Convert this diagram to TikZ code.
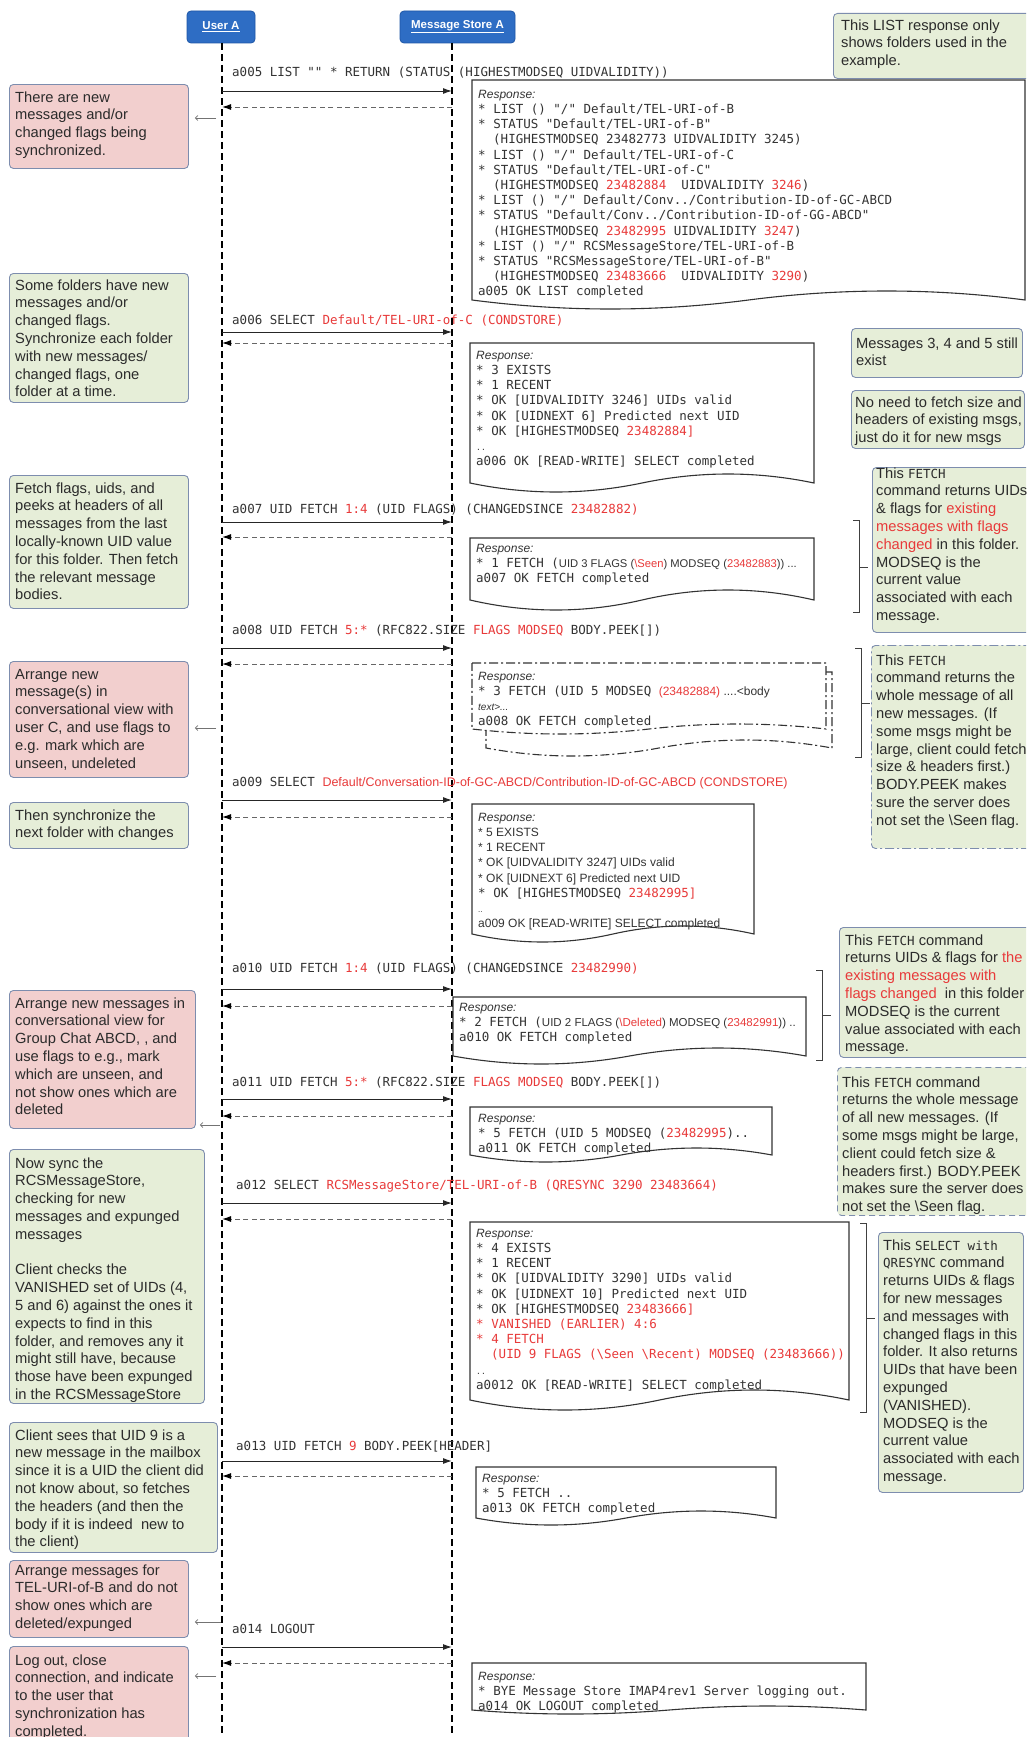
\documentclass[tikz,border=0pt]{standalone}
\usepackage{fontspec}
\setmainfont{Liberation Sans}
\setsansfont{Liberation Sans}
\setmonofont{DejaVu Sans Mono}
\usetikzlibrary{arrows.meta}

\definecolor{rd}{HTML}{E83A3A}
\definecolor{pinkfill}{HTML}{F2CFCE}
\definecolor{greenfill}{HTML}{E6EED8}
\definecolor{notebd}{HTML}{7D8DAE}
\definecolor{hdrfill}{HTML}{2E6DC4}
\definecolor{hdrbd}{HTML}{1E56A6}
\definecolor{txt}{HTML}{2B2B2B}
\definecolor{doctxt}{HTML}{333333}

\newcommand\notefont{\fontsize{14.7}{17.8}\selectfont}
\newcommand\codefont{\fontsize{12.5}{15.2}\selectfont\ttfamily}
\newcommand\mono[1]{{\ttfamily\fontsize{12.5}{17.8}\selectfont #1}}
\newcommand\rt[1]{\textcolor{rd}{#1}}
\newcommand\rsp{{\rmfamily\itshape\fontsize{12}{15.2}\selectfont Response:}}
\newcommand\smalldots{{\fontsize{8}{15.2}\selectfont ..}}

% document shape: top-left (x1,y1), right edge x2, wave level y2, wave amplitude a
\newcommand\docshape[6][]{%
  \draw[docline,#1] (#2,#3) -- (#4,#3) -- (#4,#5)
   .. controls ({#4-(#4-#2)/6},{#5-1.333*#6}) and ({#2+(#4-#2)*2/3},{#5-1.333*#6}) .. ({(#2+#4)/2},#5)
   .. controls ({#2+(#4-#2)/3},{#5+1.333*#6}) and ({#2+(#4-#2)/6},{#5+1.333*#6}) .. (#2,#5) -- cycle;}

% request / reply pair between the two lifelines
\newcommand\exchange[3]{%
  \coordinate (#1ru) at (222,#2); \coordinate (#1rs) at (452,#2);
  \coordinate (#1pu) at (222,#3); \coordinate (#1ps) at (452,#3);
  \draw[req] (#1ru) -- (#1rs);
  \draw[rep] (#1ps) -- (#1pu);}

% square bracket with a nub pointing to the comment on its right
\newcommand\bracket[5]{%
  \coordinate (#1a) at ({#2-6},#3); \coordinate (#1b) at (#2,#3);
  \coordinate (#1c) at (#2,#4); \coordinate (#1d) at ({#2-6},#4);
  \coordinate (#1m) at (#2,#5); \coordinate (#1n) at ({#2+9},#5);
  \draw[brk] (#1a) -- (#1b) -- (#1c) -- (#1d);
  \draw[brk] (#1m) -- (#1n);}

\tikzset{
  notebox/.style={draw=notebd, line width=0.9pt, rounded corners=4pt, inner sep=0pt, anchor=north west},
  pinkbox/.style={notebox, fill=pinkfill},
  greenbox/.style={notebox, fill=greenfill},
  ntext/.style={anchor=north west, inner sep=0pt, align=left, font=\notefont, text=txt},
  code/.style={anchor=north west, inner sep=0pt, align=left, font=\codefont, text=doctxt},
  lbl/.style={anchor=west, inner sep=0pt, font=\codefont, text=doctxt, text height=9pt, text depth=2.5pt},
  docline/.style={draw=black!80, line width=1.1pt, fill=white},
  dashdot/.style={dash pattern=on 9pt off 3pt on 2pt off 3pt},
  req/.style={draw=black!85, line width=1pt, -{Latex[length=9pt,width=6pt]}},
  rep/.style={draw=black!60, line width=1pt, dash pattern=on 5pt off 3.5pt, -{Latex[length=9pt,width=6pt,color=black]}},
  life/.style={draw=black, line width=1.1pt, dash pattern=on 7pt off 4pt},
  brk/.style={draw=black!75, line width=0.9pt},
  hint/.style={draw=black!55, line width=0.7pt, -{Straight Barb[length=2.5pt,width=5pt]}, shorten >=6pt},
  hdr/.style={draw=hdrbd, fill=hdrfill, rounded corners=4pt, line width=0.8pt, text=white, inner sep=0pt,
    font=\bfseries\fontsize{11.5}{13}\selectfont},
}

\begin{document}
\begin{tikzpicture}[x=1pt, y=-1pt]
\useasboundingbox (0,0) rectangle (1026,1737);
\clip (0,0) rectangle (1026,1737);
\fill[white] (0,0) rectangle (1026,1737);

% ---------- participants and lifelines ----------
\node[hdr, minimum width=68, minimum height=32] (ua) at (221,27) {\underline{User A}};
\node[hdr, minimum width=115, minimum height=32] (ms) at (457.5,27) {\underline{Message Store A}};
\coordinate (uatop) at (222,43); \coordinate (uabot) at (222,1745);
\coordinate (mstop) at (452,43); \coordinate (msbot) at (452,1745);
\draw[life] (uatop) -- (uabot);
\draw[life] (mstop) -- (msbot);

% ---------- response documents ----------
\docshape{472}{80}{1025}{300}{9}
\docshape{470}{343}{814}{483}{9}
\docshape{470}{538}{814}{600}{10}
\docshape[dashdot]{486}{672}{832}{748}{8}
\docshape[dashdot]{472}{663}{826}{729}{5}
\docshape{472}{804}{754}{934}{8}
\docshape{453}{997}{806}{1056}{8}
\docshape{470}{1107}{772}{1155}{7}
\docshape{470}{1222}{849}{1400}{10}
\docshape{476}{1467}{776}{1518}{7}
\docshape{472}{1663}{866}{1710}{4}

\node[code] (r1) at (478,87.4) {\strut\rsp\\
* LIST () "/" Default/TEL-URI-of-B\\
* STATUS "Default/TEL-URI-of-B"\\
\hspace*{15pt}(HIGHESTMODSEQ 23482773 UIDVALIDITY 3245)\\
* LIST () "/" Default/TEL-URI-of-C\\
* STATUS "Default/TEL-URI-of-C"\\
\hspace*{15pt}(HIGHESTMODSEQ \rt{23482884}\ \ UIDVALIDITY \rt{3246})\\
* LIST () "/" Default/Conv../Contribution-ID-of-GC-ABCD\\
* STATUS "Default/Conv../Contribution-ID-of-GG-ABCD"\\
\hspace*{15pt}(HIGHESTMODSEQ \rt{23482995} UIDVALIDITY \rt{3247})\\
* LIST () "/" RCSMessageStore/TEL-URI-of-B\\
* STATUS "RCSMessageStore/TEL-URI-of-B"\\
\hspace*{15pt}(HIGHESTMODSEQ \rt{23483666}\ \ UIDVALIDITY \rt{3290})\\
a005 OK LIST completed};

\node[code] (r2) at (476,348.4) {\strut\rsp\\
* 3 EXISTS\\
* 1 RECENT\\
* OK [UIDVALIDITY 3246] UIDs valid\\
* OK [UIDNEXT 6] Predicted next UID\\
* OK [HIGHESTMODSEQ \rt{23482884]}\\
\smalldots\\
a006 OK [READ-WRITE] SELECT completed};

\node[code] (r3) at (476,541.4) {\strut\rsp\\
* 1 FETCH ({\rmfamily\fontsize{11.2}{15.2}\selectfont UID 3 FLAGS (\rt{\textbackslash Seen}) MODSEQ (\rt{23482883})) ...}\\
a007 OK FETCH completed};

\node[code] (r4) at (478,669.4) {\strut\rsp\\
* 3 FETCH (UID 5 MODSEQ {\rmfamily\fontsize{12}{15.2}\selectfont\rt{(23482884)} ....<body}\\
{\rmfamily\itshape\fontsize{10}{15.2}\selectfont text>...}\\
a008 OK FETCH completed};

\node[code, font=\rmfamily\fontsize{12}{15.2}\selectfont] (r5) at (478,810.4) {\strut\rsp\\
* 5 EXISTS\\
* 1 RECENT\\
* OK [UIDVALIDITY 3247] UIDs valid\\
* OK [UIDNEXT 6] Predicted next UID\\
{\codefont * OK [HIGHESTMODSEQ \rt{23482995]}}\\
\smalldots\\
a009 OK [READ-WRITE] SELECT completed};

\node[code] (r6) at (459,1000.4) {\strut\rsp\\
* 2 FETCH ({\rmfamily\fontsize{11.5}{15.2}\selectfont UID 2 FLAGS (\rt{\textbackslash Deleted}) MODSEQ (\rt{23482991})) ..}\\
a010 OK FETCH completed};

\node[code] (r7) at (478,1111.4) {\strut\rsp\\
* 5 FETCH (UID 5 MODSEQ (\rt{23482995})..\\
a011 OK FETCH completed};

\node[code] (r8) at (476,1226.4) {\strut\rsp\\
* 4 EXISTS\\
* 1 RECENT\\
* OK [UIDVALIDITY 3290] UIDs valid\\
* OK [UIDNEXT 10] Predicted next UID\\
* OK [HIGHESTMODSEQ \rt{23483666]}\\
\rt{* VANISHED (EARLIER) 4:6}\\
\rt{* 4 FETCH}\\
\rt{\hspace*{15pt}(UID 9 FLAGS (\textbackslash Seen \textbackslash Recent) MODSEQ (23483666))}\\
\smalldots\\
a0012 OK [READ-WRITE] SELECT completed};

\node[code] (r9) at (482,1471.4) {\strut\rsp\\
* 5 FETCH ..\\
a013 OK FETCH completed};

\node[code] (r10) at (478,1669.4) {\strut\rsp\\
* BYE Message Store IMAP4rev1 Server logging out.\\
a014 OK LOGOUT completed};

% ---------- messages ----------
\exchange{a005}{91}{107}
\exchange{a006}{332}{343}
\exchange{a007}{522}{537}
\exchange{a008}{648}{664}
\exchange{a009}{800}{817}
\exchange{a010}{989}{1006}
\exchange{a011}{1099}{1116}
\exchange{a012}{1203}{1219}
\exchange{a013}{1461}{1476}
\exchange{a014}{1647}{1663}

\node[lbl] (l005) at (232,73) {a005 LIST "" * RETURN (STATUS (HIGHESTMODSEQ UIDVALIDITY))};
\node[lbl] (l006) at (232,321) {a006 SELECT \rt{Default/TEL-URI-of-C (CONDSTORE)}};
\node[lbl] (l007) at (232,510) {a007 UID FETCH \rt{1:4} (UID FLAGS) (CHANGEDSINCE \rt{23482882)}};
\node[lbl] (l008) at (232,631) {a008 UID FETCH \rt{5:*} (RFC822.SIZE \rt{FLAGS MODSEQ} BODY.PEEK[])};
\node[lbl] (l009) at (232,783) {a009 SELECT {\rmfamily\fontsize{12.5}{15}\selectfont\rt{Default/Conversation-ID-of-GC-ABCD/Contribution-ID-of-GC-ABCD (CONDSTORE)}}};
\node[lbl] (l010) at (232,969) {a010 UID FETCH \rt{1:4} (UID FLAGS) (CHANGEDSINCE \rt{23482990)}};
\node[lbl] (l011) at (232,1083) {a011 UID FETCH \rt{5:*} (RFC822.SIZE \rt{FLAGS MODSEQ} BODY.PEEK[])};
\node[lbl] (l012) at (236,1186) {a012 SELECT \rt{RCSMessageStore/TEL-URI-of-B (QRESYNC 3290 23483664)}};
\node[lbl] (l013) at (236,1447) {a013 UID FETCH \rt{9} BODY.PEEK[HEADER]};
\node[lbl] (l014) at (232,1630) {a014 LOGOUT};

% ---------- brackets ----------
\bracket{k7}{859}{520}{612}{567}
\bracket{k8}{861}{648}{757}{703}
\bracket{k10}{822}{970}{1060}{1015}
\bracket{k12}{866}{1223}{1412}{1318}

% ---------- client-side notes ----------
\node[pinkbox, minimum width=179, minimum height=84] (n1) at (9,84) {};
\node[ntext] (n1t) at (15,89.5) {\strut There are new\\messages and/or\\changed flags being\\synchronized.};
\node[greenbox, minimum width=179, minimum height=129] (n2) at (9,273) {};
\node[ntext] (n2t) at (15,277.5) {\strut Some folders have new\\messages and/or\\changed flags.\\Synchronize each folder\\with new messages/\\changed flags, one\\folder at a time.};
\node[greenbox, minimum width=179, minimum height=133] (n3) at (9,475) {};
\node[ntext] (n3t) at (15,480.5) {\strut Fetch flags, uids, and\\peeks at headers of all\\messages from the last\\locally-known UID value\\for this folder. Then fetch\\the relevant message\\bodies.};
\node[pinkbox, minimum width=179, minimum height=116] (n4) at (9,661) {};
\node[ntext] (n4t) at (15,666.5) {\strut Arrange new\\message(s) in\\conversational view with\\user C, and use flags to\\e.g. mark which are\\unseen, undeleted};
\node[greenbox, minimum width=179, minimum height=46] (n5) at (9,802) {};
\node[ntext] (n5t) at (15,807.5) {\strut Then synchronize the\\next folder with changes};
\node[pinkbox, minimum width=186, minimum height=138] (n6) at (9,990) {};
\node[ntext] (n6t) at (15,995.5) {\strut Arrange new messages in\\conversational view for\\Group Chat ABCD, , and\\use flags to e.g., mark\\which are unseen, and\\not show ones which are\\deleted};
\node[greenbox, minimum width=195, minimum height=254] (n7) at (9,1149) {};
\node[ntext] (n7t) at (15,1155.5) {\strut Now sync the\\RCSMessageStore,\\checking for new\\messages and expunged\\messages\\ \mbox{}\\Client checks the\\VANISHED set of UIDs (4,\\5 and 6) against the ones it\\expects to find in this\\folder, and removes any it\\might still have, because\\those have been expunged\\in the RCSMessageStore};
\node[greenbox, minimum width=208, minimum height=130] (n8) at (9,1422) {};
\node[ntext] (n8t) at (15,1427.5) {\strut Client sees that UID 9 is a\\new message in the mailbox\\since it is a UID the client did\\not know about, so fetches\\the headers (and then the\\body if it is indeed\ \ new to\\the client)};
\node[pinkbox, minimum width=179, minimum height=77] (n9) at (9,1560) {};
\node[ntext] (n9t) at (15,1562.5) {\strut Arrange messages for\\TEL-URI-of-B and do not\\show ones which are\\deleted/expunged};
\node[pinkbox, minimum width=179, minimum height=100] (n10) at (9,1646) {};
\node[ntext] (n10t) at (15,1652.5) {\strut Log out, close\\connection, and indicate\\to the user that\\synchronization has\\completed.};

% pointers from the client lifeline to its notes
\coordinate (h1) at (216,118);
\coordinate (h4) at (216,728);
\coordinate (h6) at (220,1125);
\coordinate (h9) at (221,1622);
\coordinate (h10) at (216,1676);
\draw[hint] (h1) -- (n1.east |- h1);
\draw[hint] (h4) -- (n4.east |- h4);
\draw[hint, shorten >=4pt] (h6) -- (n6.east |- h6);
\draw[hint] (h9) -- (n9.east |- h9);
\draw[hint] (h10) -- (n10.east |- h10);

% ---------- server-side comments ----------
\node[greenbox, minimum width=200, minimum height=65] (ca) at (833,13) {};
\node[ntext] (cat) at (841,17.5) {\strut This LIST response only\\shows folders used in the\\example.};
\node[greenbox, minimum width=171, minimum height=49] (cb) at (851,328) {};
\node[ntext] (cbt) at (856,335.5) {\strut Messages 3, 4 and 5 still\\exist};
\node[greenbox, minimum width=173, minimum height=58] (cc) at (851,390) {};
\node[ntext] (cct) at (855,394.5) {\strut No need to fetch size and\\headers of existing msgs,\\just do it for new msgs};
\node[greenbox, minimum width=165, minimum height=165] (cd) at (872,467) {};
\node[ntext] (cdt) at (876,465.5) {\strut This \mono{FETCH}\\command returns UIDs\\\& flags for \rt{existing}\\\rt{messages with flags}\\\rt{changed} in this folder.\\MODSEQ is the\\current value\\associated with each\\message.};
\node[greenbox, dashdot, minimum width=165, minimum height=203] (ce) at (871,645) {};
\node[ntext] (cet) at (876,652.5) {\strut This \mono{FETCH}\\command returns the\\whole message of all\\new messages. (If\\some msgs might be\\large, client could fetch\\size \& headers first.)\\BODY.PEEK makes\\sure the server does\\not set the \textbackslash Seen flag.};
\node[greenbox, minimum width=196, minimum height=130] (cf) at (839,927) {};
\node[ntext] (cft) at (845,932.5) {\strut This \mono{FETCH} command\\returns UIDs \& flags for \rt{the}\\\rt{existing messages with}\\\rt{flags changed}\ \ in this folder\\MODSEQ is the current\\value associated with each\\message.};
\node[greenbox, dash pattern=on 6pt off 4pt, minimum width=198, minimum height=148] (cg) at (837,1067) {};
\node[ntext] (cgt) at (842,1074.5) {\strut This \mono{FETCH} command\\returns the whole message\\of all new messages. (If\\some msgs might be large,\\client could fetch size \&\\headers first.) BODY.PEEK\\makes sure the server does\\not set the \textbackslash Seen flag.};
\node[greenbox, minimum width=145, minimum height=260] (ch) at (878,1232) {};
\node[ntext] (cht) at (883,1237.5) {\strut This \mono{SELECT with}\\\mono{QRESYNC} command\\returns UIDs \& flags\\for new messages\\and messages with\\changed flags in this\\folder. It also returns\\UIDs that have been\\expunged\\(VANISHED).\\MODSEQ is the\\current value\\associated with each\\message.};
\end{tikzpicture}
\end{document}
